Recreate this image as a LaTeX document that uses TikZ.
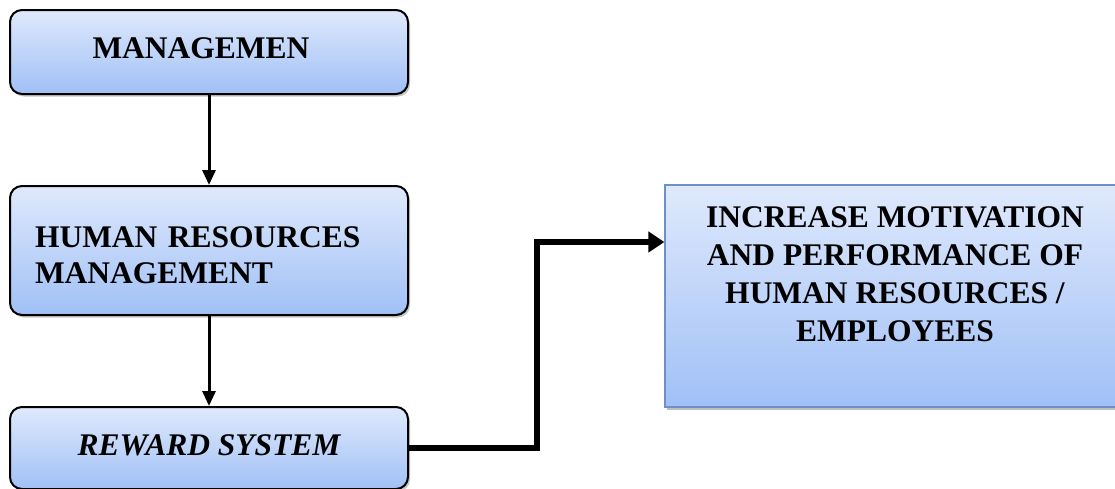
\documentclass[tikz,border=0pt]{standalone}
\usepackage{fontspec}
\setmainfont{Liberation Serif}
\usetikzlibrary{arrows.meta,shadows,positioning}
\definecolor{boxtop}{RGB}{223,233,252}
\definecolor{boxbot}{RGB}{160,192,246}
\definecolor{rborder}{RGB}{110,143,199}
\tikzset{
  flowbox/.style={draw=black, line width=2pt, rounded corners=12pt,
    top color=boxtop, bottom color=boxbot, inner sep=0pt,
    minimum width=398pt, font=\fontsize{31.5}{36}\selectfont\bfseries,
    drop shadow={shadow xshift=2pt, shadow yshift=-2.5pt, opacity=0.22, fill=black}},
  goalbox/.style={draw=rborder, line width=1.2pt,
    top color=boxtop, bottom color=boxbot, inner sep=0pt,
    minimum width=480pt, minimum height=222pt, align=center,
    font=\fontsize{31.5}{38}\selectfont\bfseries,
    drop shadow={shadow xshift=1.5pt, shadow yshift=-3pt, opacity=0.25, fill=black}},
  thinarrow/.style={line width=3pt, -{Triangle[width=13pt,length=15pt]}},
  thickarrow/.style={line width=6pt, -{Triangle[width=20pt,length=16pt]}}
}
\begin{document}
\begin{tikzpicture}[x=1pt,y=-1pt]
\useasboundingbox[fill=white] (0,0) rectangle (1115,488);
\clip (0,0) rectangle (1115,488);
\node[flowbox, minimum height=84pt, text depth=7pt] (m) at (209,52) {MANAGEMEN\kern16pt};
\node[flowbox, minimum height=129pt, align=left, text width=348pt, inner xsep=25pt, text height=29.5pt] (hrm) at (209,250.5) {HUMAN RESOURCES\\MANAGEMENT};
\node[flowbox, minimum height=82pt, text depth=6pt] (rs) at (209,448) {\itshape REWARD SYSTEM};
\node[goalbox, text depth=43pt] (inc) at (905,296) {INCREASE MOTIVATION\kern20pt\\AND PERFORMANCE OF\kern20pt\\HUMAN RESOURCES /\kern20pt\\EMPLOYEES\kern20pt};
\coordinate (bend) at (537,242);
\draw[thinarrow] (m.south) -- (hrm.north);
\draw[thinarrow] (hrm.south) -- (rs.north);
\draw[thickarrow] (rs.east) -| (bend) -- (inc.west |- bend);
\end{tikzpicture}
\end{document}
